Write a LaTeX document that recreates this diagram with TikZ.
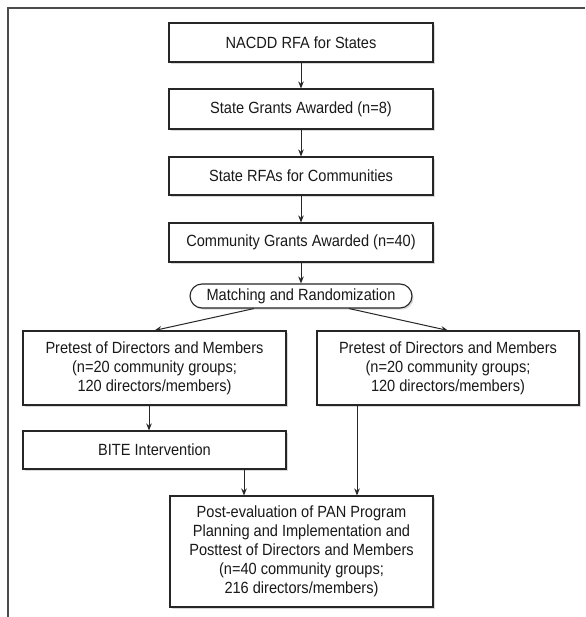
\documentclass[tikz,border=0pt]{standalone}
\usepackage{fontspec}
\setmainfont[FakeStretch=0.9]{Liberation Sans}
\usetikzlibrary{shadows,arrows.meta}
\begin{document}
\begin{tikzpicture}[x=1pt,y=-1pt,
  box/.style={draw=black!85, line width=1.1pt, fill=white, rectangle, inner sep=0pt,
    align=center, text=black!90, font=\fontsize{16.2}{19}\selectfont,
    drop shadow={opacity=0.3, shadow xshift=1.6pt, shadow yshift=-1.6pt}},
  pill/.style={box, rounded corners=12pt},
  arr/.style={-{Stealth[length=7pt,width=5.5pt]}, line width=1pt, draw=black!85}]
\useasboundingbox (0,0) rectangle (585,617);
\fill[white] (0,0) rectangle (585,617);
\draw[line width=2pt, black!70] (8,617) -- (8,8) -- (585,8);

\node[box, minimum width=264pt, minimum height=39pt] (b1) at (301,42.5) {NACDD RFA for States};
\node[box, minimum width=264pt, minimum height=40pt] (b2) at (301,109) {State Grants Awarded (n=8)};
\node[box, minimum width=264pt, minimum height=38pt] (b3) at (301,176) {State RFAs for Communities};
\node[box, minimum width=264pt, minimum height=39pt] (b4) at (301,242.5) {Community Grants Awarded (n=40)};
\node[pill, minimum width=222pt, minimum height=24pt] (mr) at (301,296) {Matching and Randomization};
\node[box, minimum width=263pt, minimum height=74pt] (pl) at (154.5,368) {Pretest of Directors and Members\\(n=20 community groups;\\120 directors/members)};
\node[box, minimum width=262pt, minimum height=74pt] (pr) at (448,368) {Pretest of Directors and Members\\(n=20 community groups;\\120 directors/members)};
\node[box, minimum width=263pt, minimum height=38pt] (bite) at (154.5,450) {BITE Intervention};
\node[box, minimum width=263pt, minimum height=111pt] (post) at (301.5,551.5) {Post-evaluation of PAN Program\\Planning and Implementation and\\Posttest of Directors and Members\\(n=40 community groups;\\216 directors/members)};

\coordinate (c1) at (244,0);
\coordinate (c2) at (357,0);

\draw[arr] (b1) -- (b2);
\draw[arr] (b2) -- (b3);
\draw[arr] (b3) -- (b4);
\draw[arr] (b4) -- (mr);
\draw[arr] ([xshift=-47pt]mr.south) -- (pl.north);
\draw[arr] ([xshift=48pt]mr.south) -- (pr.north);
\draw[arr] ([xshift=-5.5pt]pl.south) -- ([xshift=-5.5pt]bite.north);
\draw[arr] (bite.south -| c1) -- (post.north -| c1);
\draw[arr] (pr.south -| c2) -- (post.north -| c2);
\end{tikzpicture}
\end{document}
